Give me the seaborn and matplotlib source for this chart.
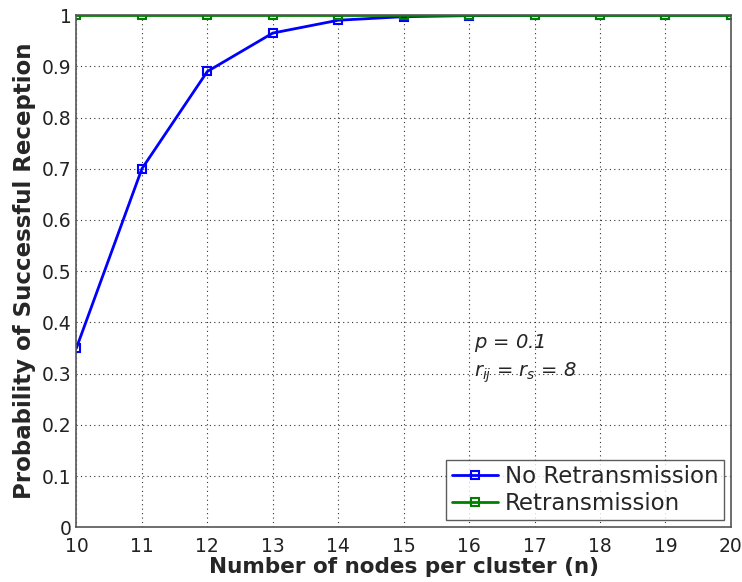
import numpy as np
import pandas as pd
import matplotlib
matplotlib.use("Agg")
import matplotlib.pyplot as plt
import seaborn as sns

# values
nodes = [10, 11, 12, 13, 14, 15, 16, 17, 18, 19, 20]
no_retx = [0.35, 0.70, 0.89, 0.965, 0.99, 0.997, 0.999, 1.0, 1.0, 1.0, 1.0]
retx = [1.0, 1.0, 1.0, 1.0, 1.0, 1.0, 1.0, 1.0, 1.0, 1.0, 1.0]
y_ticks = [0, 0.1, 0.2, 0.3, 0.4, 0.5, 0.6, 0.7, 0.8, 0.9, 1]
y_tick_labels = ["0", "0.1", "0.2", "0.3", "0.4", "0.5", "0.6", "0.7", "0.8", "0.9", "1"]

df = pd.DataFrame({"n": nodes + nodes,
                   "prob": no_retx + retx,
                   "series": ["No Retransmission"] * len(nodes) + ["Retransmission"] * len(nodes)})

sns.set_style("white")
plt.rcParams["font.family"] = ["DejaVu Sans"]

fig = plt.figure(figsize=(7.42, 5.82), dpi=100)
ax = fig.add_axes([0.103, 0.094, 0.882, 0.88])

sns.lineplot(data=df, x="n", y="prob", hue="series",
             palette={"No Retransmission": "#0000ff", "Retransmission": "#008000"},
             marker="s", markersize=6, linewidth=2.0, ax=ax)
for line in ax.get_lines():
    line.set_markeredgecolor(line.get_color())
    line.set_markerfacecolor("none")
    line.set_markeredgewidth(1.5)

ax.set_xlim(10, 20)
ax.set_ylim(0, 1)
ax.set_xticks(nodes)
ax.set_yticks(y_ticks)
ax.set_yticklabels(y_tick_labels)
ax.tick_params(direction="in", labelsize=13.5, length=5, colors="#222222")
ax.tick_params(axis="x", pad=7)
ax.grid(True, linestyle=(0, (1, 3)), color="#333333", linewidth=0.8)
for s in ax.spines.values():
    s.set_color("#555555")
    s.set_linewidth(1.2)

ax.set_xlabel("Number of nodes per cluster (n)", fontsize=15.5, fontweight="bold", labelpad=1)
ax.set_ylabel("Probability of Successful Reception", fontsize=16.5, fontweight="bold", labelpad=4)

ax.text(16.08, 0.35, "$p$ = 0.1", fontsize=14, style="italic")
ax.text(16.08, 0.295, r"$r_{ij}$ = $r_s$ = 8", fontsize=14, style="italic")

leg = ax.legend(loc="lower right", fontsize=16.5, frameon=True, fancybox=False,
                edgecolor="#333333", handlelength=2.0, borderpad=0.25,
                labelspacing=0.15, handletextpad=0.3, borderaxespad=0.3)
leg.get_frame().set_linewidth(1.0)

fig.savefig("out.png", dpi=100)
